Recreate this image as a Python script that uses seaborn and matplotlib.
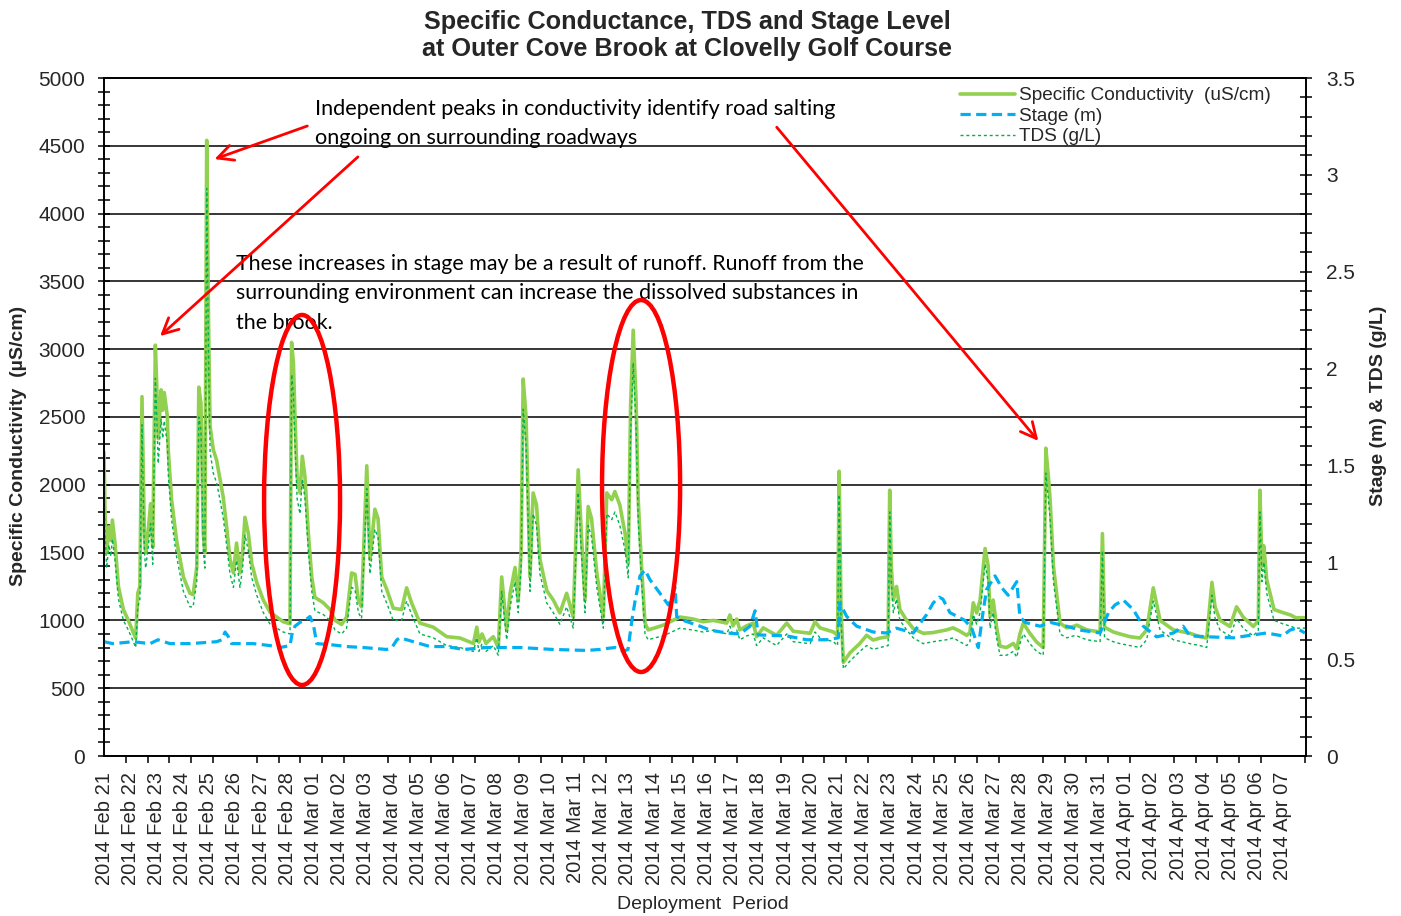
import numpy as np
import pandas as pd
import matplotlib
matplotlib.use("Agg")
import matplotlib.pyplot as plt
from matplotlib.patches import Ellipse
from matplotlib.lines import Line2D
from matplotlib.ticker import MultipleLocator, FuncFormatter
import seaborn as sns

START = "2014-02-21"
N_DAYS = 46

# Logger readings: elapsed days since deployment start
spc_days = [
    0.00, 0.04, 0.10, 0.19, 0.26, 0.32, 0.42, 0.55, 0.74, 0.93,
    1.12, 1.21, 1.29, 1.37, 1.45, 1.54, 1.59, 1.69, 1.78, 1.86,
    1.96, 2.01, 2.07, 2.18, 2.24, 2.30, 2.42, 2.45, 2.58, 2.77,
    3.03, 3.28, 3.40, 3.54, 3.62, 3.70, 3.79, 3.85, 3.92, 3.99,
    4.05, 4.17, 4.30, 4.43, 4.55, 4.68, 4.81, 4.94, 5.06, 5.19,
    5.29, 5.38, 5.51, 5.64, 5.83, 6.08, 6.34, 6.59, 6.84, 7.10,
    7.16, 7.23, 7.29, 7.37, 7.48, 7.57, 7.67, 7.80, 7.93, 8.05,
    8.37, 8.63, 8.82, 9.07, 9.26, 9.45, 9.58, 9.71, 9.83, 10.03,
    10.15, 10.34, 10.46, 10.60, 10.79, 11.04, 11.36, 11.55, 11.74, 12.06,
    12.57, 13.08, 13.59, 14.10, 14.23, 14.31, 14.43, 14.58, 14.86, 15.05,
    15.18, 15.37, 15.50, 15.69, 15.81, 15.92, 16.00, 16.11, 16.26, 16.38,
    16.51, 16.64, 16.90, 17.15, 17.40, 17.66, 17.91, 18.10, 18.23, 18.36,
    18.48, 18.61, 18.81, 19.06, 19.19, 19.38, 19.50, 19.69, 19.89, 20.01,
    20.10, 20.20, 20.31, 20.39, 20.52, 20.65, 20.77, 21.03, 21.35, 21.98,
    22.49, 22.87, 23.26, 23.77, 23.89, 24.01, 24.15, 24.27, 24.53, 24.78,
    24.91, 25.16, 25.67, 26.06, 26.31, 26.95, 27.14, 27.33, 27.84, 28.00,
    28.06, 28.13, 28.22, 28.47, 28.85, 29.11, 29.36, 29.62, 29.93, 29.99,
    30.05, 30.13, 30.25, 30.38, 30.64, 30.89, 31.27, 31.64, 32.16, 32.41,
    32.67, 32.93, 33.05, 33.18, 33.31, 33.44, 33.63, 33.75, 33.82, 33.94,
    34.07, 34.20, 34.45, 34.71, 34.84, 34.96, 35.09, 35.34, 35.60, 35.85,
    35.95, 36.05, 36.11, 36.24, 36.49, 36.75, 37.00, 37.13, 37.51, 38.02,
    38.11, 38.19, 38.52, 38.78, 39.16, 39.54, 39.80, 40.05, 40.31, 40.82,
    41.45, 41.83, 42.09, 42.29, 42.41, 42.60, 42.98, 43.23, 43.48, 43.87,
    44.06, 44.12, 44.20, 44.27, 44.38, 44.66, 45.04, 45.29, 45.48, 45.86,
]

# Specific conductivity (uS/cm)
spc_us_cm = [
    2240, 1790, 1500, 1690, 1590, 1740, 1570, 1250, 1080, 1000,
    910, 870, 1200, 1250, 2650, 1640, 1500, 1670, 1860, 1540,
    3030, 2750, 2340, 2700, 2550, 2680, 2500, 2260, 1890, 1590,
    1320, 1200, 1190, 1390, 2720, 2600, 1640, 1500, 4540, 3200,
    2430, 2260, 2180, 2040, 1910, 1690, 1450, 1350, 1570, 1350,
    1500, 1760, 1640, 1420, 1280, 1150, 1060, 1025, 990, 975,
    3050, 2900, 2500, 2060, 1940, 2210, 2060, 1640, 1320, 1170,
    1130, 1080, 1000, 970, 1025, 1350, 1340, 1150, 1100, 2140,
    1450, 1820, 1750, 1320, 1230, 1090, 1080, 1240, 1130, 980,
    950, 880, 870, 830, 950, 840, 900, 830, 880, 800,
    1320, 930, 1200, 1390, 1150, 1500, 2780, 2500, 1320, 1940,
    1850, 1450, 1220, 1150, 1055, 1200, 1025, 2110, 1600, 1150,
    1840, 1750, 1350, 1025, 1940, 1890, 1950, 1850, 1640, 1420,
    2580, 3140, 2620, 1890, 1390, 980, 930, 945, 965, 1025,
    1010, 990, 1000, 980, 1040, 960, 1010, 930, 960, 980,
    880, 945, 890, 980, 920, 905, 990, 945, 915, 890,
    2100, 1100, 690, 760, 830, 890, 855, 870, 880, 1960,
    1400, 1150, 1250, 1080, 1000, 940, 905, 910, 930, 945,
    920, 890, 910, 1130, 1055, 1150, 1530, 1400, 1030, 1150,
    950, 810, 800, 830, 790, 900, 980, 905, 840, 800,
    2270, 2050, 1900, 1400, 980, 945, 955, 965, 930, 915,
    1640, 950, 915, 900, 880, 870, 930, 1240, 1000, 930,
    905, 880, 870, 1280, 1100, 1000, 955, 1100, 1025, 955,
    1000, 1960, 1400, 1550, 1300, 1080, 1055, 1040, 1020, 1020,
]

# Total dissolved solids (g/L)
tds_g_l = [
    1.44, 1.15, 0.97, 1.09, 1.03, 1.12, 1.01, 0.81, 0.70, 0.65,
    0.59, 0.56, 0.77, 0.81, 1.71, 1.06, 0.97, 1.08, 1.20, 0.99,
    1.95, 1.77, 1.51, 1.74, 1.64, 1.73, 1.61, 1.46, 1.22, 1.03,
    0.85, 0.77, 0.77, 0.90, 1.75, 1.68, 1.06, 0.97, 2.93, 2.06,
    1.57, 1.46, 1.41, 1.32, 1.23, 1.09, 0.94, 0.87, 1.01, 0.87,
    0.97, 1.14, 1.06, 0.92, 0.83, 0.74, 0.68, 0.66, 0.64, 0.63,
    1.97, 1.87, 1.61, 1.33, 1.25, 1.43, 1.33, 1.06, 0.85, 0.75,
    0.73, 0.70, 0.65, 0.63, 0.66, 0.87, 0.86, 0.74, 0.71, 1.38,
    0.94, 1.17, 1.13, 0.85, 0.79, 0.70, 0.70, 0.80, 0.73, 0.63,
    0.61, 0.57, 0.56, 0.54, 0.61, 0.54, 0.58, 0.54, 0.57, 0.52,
    0.85, 0.60, 0.77, 0.90, 0.74, 0.97, 1.79, 1.61, 0.85, 1.25,
    1.19, 0.94, 0.79, 0.74, 0.68, 0.77, 0.66, 1.36, 1.03, 0.74,
    1.19, 1.13, 0.87, 0.66, 1.25, 1.22, 1.26, 1.19, 1.06, 0.92,
    1.66, 2.03, 1.69, 1.22, 0.90, 0.63, 0.60, 0.61, 0.62, 0.66,
    0.65, 0.64, 0.65, 0.63, 0.67, 0.62, 0.65, 0.60, 0.62, 0.63,
    0.57, 0.61, 0.57, 0.63, 0.59, 0.58, 0.64, 0.61, 0.59, 0.57,
    1.35, 0.71, 0.45, 0.49, 0.54, 0.57, 0.55, 0.56, 0.57, 1.26,
    0.90, 0.74, 0.81, 0.70, 0.65, 0.61, 0.58, 0.59, 0.60, 0.61,
    0.59, 0.57, 0.59, 0.73, 0.68, 0.74, 0.99, 0.90, 0.66, 0.74,
    0.61, 0.52, 0.52, 0.54, 0.51, 0.58, 0.63, 0.58, 0.54, 0.52,
    1.46, 1.32, 1.23, 0.90, 0.63, 0.61, 0.62, 0.62, 0.60, 0.59,
    1.06, 0.61, 0.59, 0.58, 0.57, 0.56, 0.60, 0.80, 0.65, 0.60,
    0.58, 0.57, 0.56, 0.83, 0.71, 0.65, 0.62, 0.71, 0.66, 0.62,
    0.65, 1.26, 0.90, 1.00, 0.84, 0.70, 0.68, 0.67, 0.66, 0.66,
]

stage_days = [
    0.00, 0.34, 1.11, 1.76, 2.06, 2.52, 3.28, 4.30, 4.50, 4.62,
    4.73, 4.87, 5.70, 6.34, 6.72, 7.10, 7.19, 7.29, 7.48, 7.67,
    7.86, 7.99, 8.12, 8.63, 9.26, 9.90, 10.79, 10.99, 11.18, 11.30,
    11.81, 12.44, 13.08, 13.71, 14.61, 15.88, 17.14, 18.42, 18.93, 19.19,
    19.50, 19.82, 20.00, 20.15, 20.27, 20.46, 20.65, 20.84, 21.22, 21.54,
    21.68, 21.80, 21.86, 22.11, 22.75, 23.13, 23.77, 24.27, 24.66, 24.85,
    24.97, 26.06, 26.82, 27.58, 28.03, 28.09, 28.35, 28.73, 29.36, 29.87,
    30.25, 30.89, 31.15, 31.40, 31.65, 31.88, 32.02, 32.29, 32.86, 33.12,
    33.37, 33.56, 33.69, 34.01, 34.26, 34.51, 34.84, 34.96, 35.15, 35.73,
    36.11, 36.74, 37.25, 38.02, 38.34, 38.59, 38.91, 39.29, 39.67, 40.18,
    40.82, 41.19, 41.45, 42.21, 43.10, 44.37, 44.99, 45.27, 45.52, 45.84,
]

# Stage (m)
stage_m = [
    0.59, 0.58, 0.59, 0.58, 0.60, 0.58, 0.58, 0.59, 0.60, 0.64,
    0.62, 0.58, 0.58, 0.57, 0.56, 0.57, 0.64, 0.67, 0.69, 0.70,
    0.72, 0.68, 0.58, 0.575, 0.565, 0.56, 0.55, 0.56, 0.60, 0.61,
    0.59, 0.565, 0.565, 0.55, 0.56, 0.56, 0.55, 0.545, 0.55, 0.555,
    0.56, 0.54, 0.55, 0.70, 0.80, 0.93, 0.96, 0.91, 0.84, 0.78,
    0.82, 0.87, 0.72, 0.70, 0.67, 0.65, 0.635, 0.63, 0.67, 0.75,
    0.625, 0.62, 0.60, 0.60, 0.61, 0.79, 0.72, 0.67, 0.64, 0.635,
    0.66, 0.635, 0.685, 0.73, 0.79, 0.82, 0.81, 0.74, 0.70, 0.66,
    0.56, 0.75, 0.86, 0.93, 0.87, 0.83, 0.90, 0.72, 0.69, 0.67,
    0.69, 0.67, 0.65, 0.635, 0.74, 0.78, 0.805, 0.755, 0.67, 0.615,
    0.635, 0.67, 0.62, 0.615, 0.61, 0.635, 0.62, 0.65, 0.66, 0.635,
]

date_labels = pd.date_range(START, periods=N_DAYS, freq="D").strftime("%Y %b %d").tolist()

SPC_COLOR = "#92D050"
TDS_COLOR = "#00B050"
STAGE_COLOR = "#00B0F0"

sns.set_style("ticks")
plt.rcParams["font.family"] = ["Liberation Sans", "DejaVu Sans"]

W, H = 1401, 916
fig = plt.figure(figsize=(W / 100, H / 100), dpi=100)
ax = fig.add_axes([104 / W, 1 - 756 / H, 1202 / W, 678 / H])
ax2 = ax.twinx()

cond = pd.DataFrame({"day": spc_days, "spc": spc_us_cm, "tds": tds_g_l})
stage = pd.DataFrame({"day": stage_days, "stage": stage_m})

sns.lineplot(data=cond, x="day", y="spc", ax=ax, color=SPC_COLOR, lw=2.6,
             sort=False, estimator=None, legend=False)
sns.lineplot(data=cond, x="day", y="tds", ax=ax2, color=TDS_COLOR, lw=1.0,
             sort=False, estimator=None, legend=False)
ax2.lines[-1].set_dashes((2.2, 2.0))
sns.lineplot(data=stage, x="day", y="stage", ax=ax2, color=STAGE_COLOR, lw=2.3,
             sort=False, estimator=None, legend=False)
ax2.lines[-1].set_dashes((3.2, 1.7))

# axes ranges
ax.set_xlim(0, 45.88)
ax.set_ylim(0, 5000)
ax2.set_ylim(0, 3.5)

# left axis
ax.set_yticks(np.arange(0, 5001, 500))
ax.yaxis.set_minor_locator(MultipleLocator(100))
ax.tick_params(axis="y", which="both", direction="inout", length=9, width=1.1,
               color="black", labelsize=15, pad=9, left=True)
ax.grid(axis="y", which="major", color="black", lw=1.1)
ax.set_axisbelow(True)

# right axis
ax2.set_yticks(np.arange(0, 3.51, 0.5))
ax2.yaxis.set_major_formatter(FuncFormatter(lambda v, p: f"{v:g}"))
ax2.yaxis.set_minor_locator(MultipleLocator(0.1))
ax2.tick_params(axis="y", which="both", direction="inout", length=9, width=1.1,
                color="black", labelsize=15, pad=10, right=True)

# date axis: one label per day, tick marks every 20 hours
ax.set_xticks(np.arange(N_DAYS))
ax.set_xticklabels(date_labels, rotation=90, fontsize=14.5)
ax.xaxis.set_minor_locator(MultipleLocator(20 / 24))
ax.tick_params(axis="x", which="major", length=0, pad=11.5)
ax.tick_params(axis="x", which="minor", direction="out", length=5, width=1.1,
               color="black", bottom=True)

for a in (ax, ax2):
    for s in a.spines.values():
        s.set_color("black")
        s.set_linewidth(1.2)

ax.set_xlabel("Deployment  Period", fontsize=14)
ax.xaxis.set_label_coords(0.498, -0.207)
ax.set_ylabel("Specific Conductivity  (µS/cm)", fontsize=14, fontweight="bold")
ax.yaxis.set_label_coords(-0.064, 0.457)
ax2.set_ylabel("Stage (m) & TDS (g/L)", fontsize=14, fontweight="bold")
ax2.yaxis.set_label_coords(1.053, 0.516)

fig.text(687 / W, 1 - 35.5 / H,
         "Specific Conductance, TDS and Stage Level\nat Outer Cove Brook at Clovelly Golf Course",
         ha="center", va="center", fontsize=18.2, fontweight="bold", linespacing=1.15)

# legend
handles = [
    Line2D([], [], color=SPC_COLOR, lw=2.6),
    Line2D([], [], color=STAGE_COLOR, lw=2.3, dashes=(3.2, 1.7)),
    Line2D([], [], color=TDS_COLOR, lw=1.0, dashes=(2.2, 2.0)),
]
fig.legend(handles, ["Specific Conductivity  (uS/cm)", "Stage (m)", "TDS (g/L)"],
           loc="upper left", bbox_to_anchor=(960 / W, 1 - 87 / H),
           frameon=False, fontsize=13.7, handlelength=2.9, handletextpad=0.2,
           labelspacing=0.17, borderpad=0, borderaxespad=0)

# callouts
note_font = dict(family=["Lato", "DejaVu Sans"], color="black",
                 linespacing=1.57, ha="left", va="top")
ax2.text(8.05, 4843, "Independent peaks in conductivity identify road salting\n"
         "ongoing on surrounding roadways", transform=ax.transData,
         fontsize=15.6, **note_font)
ax2.text(5.04, 3700, "These increases in stage may be a result of runoff. Runoff from the\n"
         "surrounding environment can increase the dissolved substances in\n"
         "the brook.", transform=ax.transData, fontsize=15.4, **note_font)

arrow = dict(arrowstyle="->", color="red", lw=2.0, mutation_scale=28)
for tail, head in [((7.86, 4653), (4.12, 4395)),
                   ((9.77, 4432), (2.06, 3083)),
                   ((25.61, 4653), (35.73, 2308))]:
    ax2.annotate("", xy=head, xytext=tail, xycoords=ax.transData,
                 textcoords=ax.transData, arrowprops=arrow)

for cx, cy, w, h in [(7.56, 1888, 2.9, 2729), (20.5, 1991, 2.98, 2743)]:
    ax2.add_patch(Ellipse((cx, cy), w, h, transform=ax.transData,
                          fill=False, edgecolor="red", lw=3.2, zorder=5))

fig.savefig("out.png", dpi=100)
